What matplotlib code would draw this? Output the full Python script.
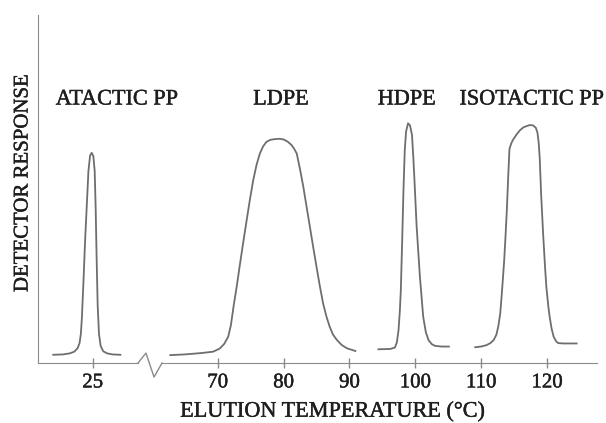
import matplotlib.pyplot as plt
import matplotlib.patheffects as pe

# TREF traces: elution temperature (deg C) vs detector response (arb. units)
atactic_t = [19.0, 20.5, 21.5, 22.2, 22.7, 23.0, 23.2, 23.35, 23.6, 23.85,
             24.1, 24.35, 24.6, 24.85, 25.1, 25.3, 25.45, 25.6, 25.75, 25.95,
             26.2, 26.6, 27.2, 28.0, 29.2]
atactic_r = [2.4, 2.5, 2.8, 3.3, 4.3, 5.8, 8.5, 13.0, 24.0, 36.0,
             46.0, 56.0, 60.5, 61.3, 60.3, 56.0, 45.0, 30.0, 17.0, 8.5,
             5.0, 3.4, 2.8, 2.5, 2.4]

ldpe_t = [62.8, 65.0, 67.5, 69.3, 70.3, 71.0, 71.6, 72.0, 72.4, 72.9, 73.4,
          73.9, 74.4, 74.9, 75.4, 75.9, 76.4, 76.9, 77.4, 78.0, 78.7, 79.4,
          80.0, 80.6, 81.2, 81.6, 82.0, 82.5, 83.0, 83.5, 84.0, 84.5, 85.0,
          85.5, 86.0, 86.5, 87.0, 87.5, 88.1, 88.8, 89.6, 90.9]
ldpe_r = [2.3, 2.5, 2.9, 3.3, 4.2, 5.6, 7.7, 11.0, 16.4, 22.5, 29.1,
          35.5, 41.7, 47.8, 53.4, 57.8, 61.1, 63.2, 64.5, 65.1, 65.3, 65.4,
          65.2, 64.6, 63.6, 62.5, 61.1, 56.5, 51.4, 45.5, 39.7, 33.8, 28.1,
          22.5, 17.4, 13.6, 10.6, 8.3, 6.7, 5.3, 4.3, 3.5]

hdpe_t = [94.4, 96.2, 96.9, 97.2, 97.45, 97.65, 97.8, 98.0, 98.2, 98.4,
          98.6, 98.9, 99.2, 99.5, 99.7, 99.85, 100.2, 100.7, 101.2, 101.6,
          102.0, 102.5, 103.0, 104.0, 105.1]
hdpe_r = [4.0, 4.1, 4.5, 6.0, 9.5, 15.0, 21.0, 35.0, 50.0, 62.0,
          67.5, 69.9, 69.3, 66.5, 60.0, 54.3, 40.0, 25.2, 13.5, 9.0,
          6.7, 5.5, 5.0, 4.8, 4.8]

iso_t = [109.1, 110.0, 110.8, 111.4, 111.9, 112.3, 112.6, 112.9, 113.1, 113.3,
         113.5, 113.7, 113.9, 114.1, 114.3, 114.6, 114.9, 115.4, 115.9, 116.4,
         116.9, 117.4, 117.9, 118.3, 118.55, 118.75, 118.9, 119.1, 119.4, 119.7,
         119.9, 120.2, 120.4, 120.7, 121.0, 121.4, 121.7, 122.5, 124.5]
iso_r = [4.6, 4.8, 5.2, 5.8, 6.7, 8.2, 10.6, 14.5, 19.3, 24.5,
         30.0, 37.0, 44.6, 54.0, 62.5, 64.2, 65.3, 66.7, 67.9, 68.7,
         69.1, 69.4, 69.3, 68.6, 67.2, 64.0, 59.5, 49.5, 38.0, 28.0,
         22.2, 16.5, 13.5, 10.0, 7.7, 6.3, 5.8, 5.7, 5.7]

labels = ["ATACTIC PP", "LDPE", "HDPE", "ISOTACTIC PP"]
label_t = [28.7, 79.6, 98.7, 117.7]
label_r = 76.7

left_ticks = [25]
right_ticks = [70, 80, 90, 100, 110, 120]

plt.rcParams["font.family"] = ["Liberation Serif", "DejaVu Serif"]
line_c = "#6e6e6e"
axis_c = "#8a8a8a"
text_c = "#1e1e1e"
heavy = [pe.withStroke(linewidth=0.3, foreground=text_c)]

fig = plt.figure(figsize=(6.06, 4.23), dpi=100)
bottom = 60 / 423
height = 348 / 423
ax1 = fig.add_axes([38 / 606, bottom, 112 / 606, height])
ax2 = fig.add_axes([150 / 606, bottom, 447 / 606, height])
for ax in (ax1, ax2):
    ax.patch.set_visible(False)
    ax.set_ylim(0, 101.5)
    ax.set_yticks([])
    for s in ("top", "right"):
        ax.spines[s].set_visible(False)
    ax.spines["bottom"].set_color(axis_c)
    ax.spines["left"].set_color(axis_c)
    ax.tick_params(axis="x", direction="inout", length=7, width=1,
                   color=axis_c, labelsize=15, labelcolor=text_c, pad=4)
ax2.spines["left"].set_visible(False)

ax1.set_xlim(16.69, 33.70)
ax2.set_xlim(59.72, 127.59)
ax1.spines["bottom"].set_bounds(16.69, 31.88)
ax2.spines["bottom"].set_bounds(61.54, 127.59)
ax1.set_xticks(left_ticks)
ax2.set_xticks(right_ticks)
for ax in (ax1, ax2):
    for lab in ax.get_xticklabels():
        lab.set_path_effects(heavy)

ax1.plot(atactic_t, atactic_r, color=line_c, lw=1.3)
ax2.plot(ldpe_t, ldpe_r, color=line_c, lw=1.3)
ax2.plot(hdpe_t, hdpe_r, color=line_c, lw=1.3)
ax2.plot(iso_t, iso_r, color=line_c, lw=1.3)

# axis break mark
ax2.plot([57.9, 59.11, 60.33, 61.54], [0, 2.9, -4.1, 0], color=axis_c,
         lw=1, clip_on=False)

ax1.text(label_t[0], label_r, labels[0], ha="center", va="center",
         fontsize=16, color=text_c, clip_on=False, path_effects=heavy)
for name, t in zip(labels[1:], label_t[1:]):
    ax2.text(t, label_r, name, ha="center", va="center", fontsize=16,
             color=text_c, path_effects=heavy)

fig.text(333 / 606, 1 - 412 / 423, "ELUTION TEMPERATURE (°C)", ha="center",
         va="center", fontsize=16, color=text_c, path_effects=heavy)
fig.text(23 / 606, 1 - 183 / 423, "DETECTOR RESPONSE", ha="center",
         va="center", rotation=90, fontsize=15, color=text_c,
         path_effects=heavy)

fig.savefig("out.png", dpi=100)
